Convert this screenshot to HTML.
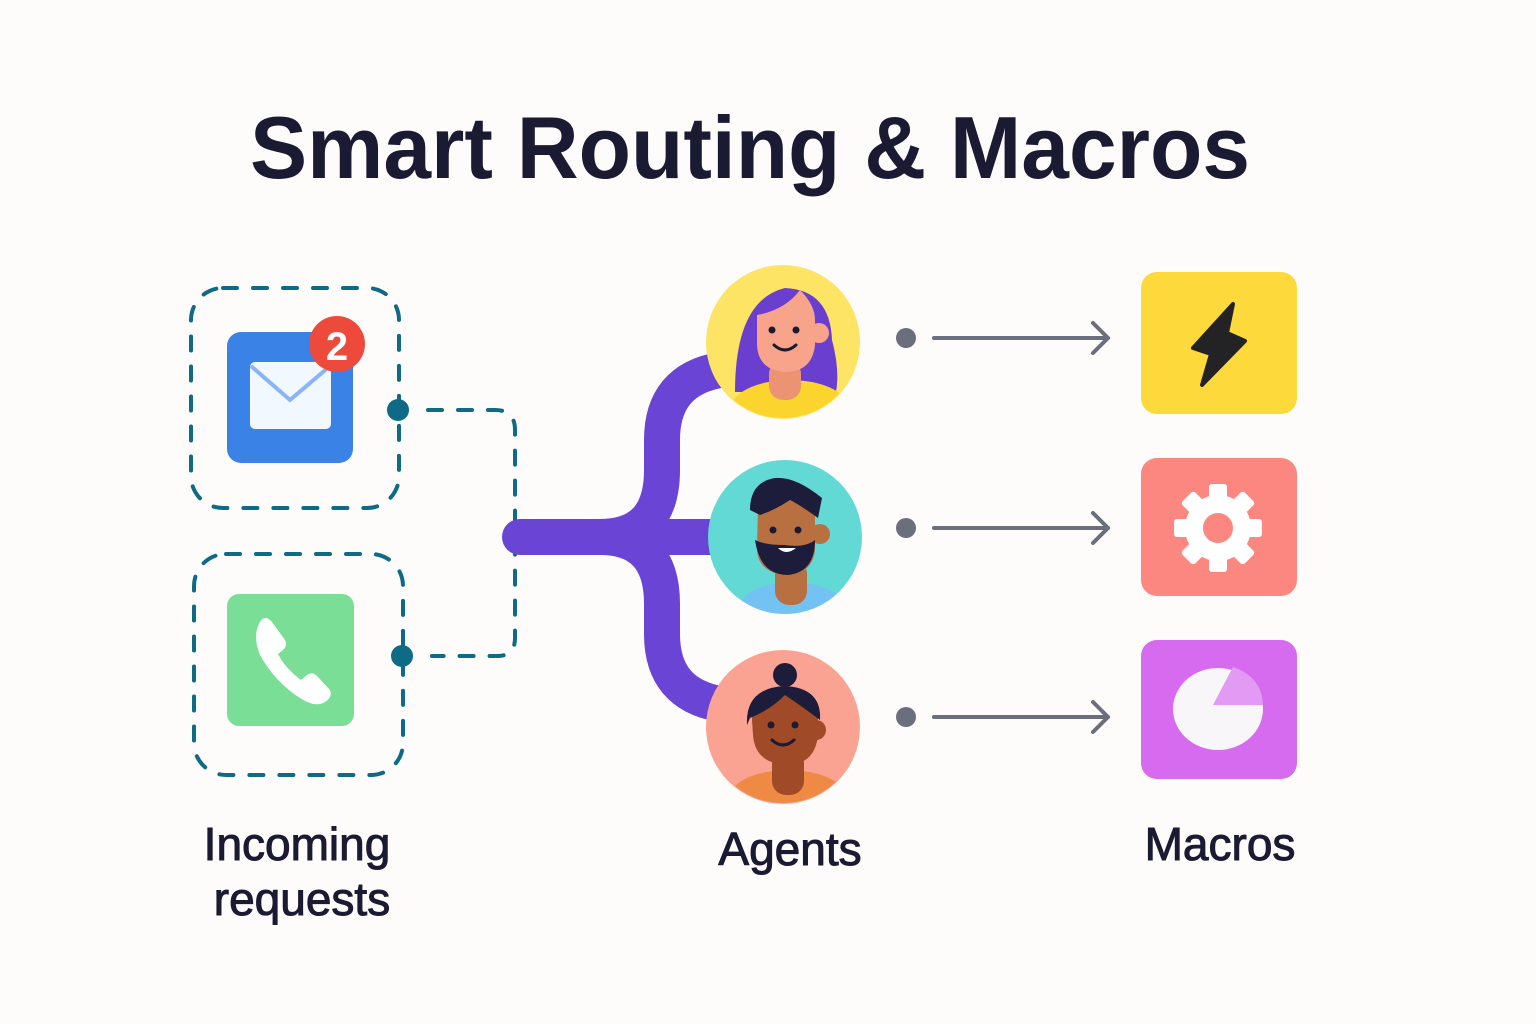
<!DOCTYPE html>
<html><head><meta charset="utf-8"><style>
html,body{margin:0;padding:0;background:#fdfcfa;}
svg{display:block}
text{font-family:"Liberation Sans","DejaVu Sans",sans-serif;fill:#1b1a33}
.lbl{stroke:#1b1a33;stroke-width:1}
</style></head><body>
<svg width="1536" height="1024" viewBox="0 0 1536 1024" xmlns="http://www.w3.org/2000/svg">
<rect width="1536" height="1024" fill="#fdfcfa"/>
<text x="750" y="178" font-size="88" font-weight="700" text-anchor="middle" textLength="1000" lengthAdjust="spacingAndGlyphs">Smart Routing &amp; Macros</text>

<rect x="191" y="288" width="208" height="220" rx="32" fill="none" stroke="#0e6a85" stroke-width="4" stroke-dasharray="14 16" stroke-linecap="round"/>
<rect x="194" y="554" width="209" height="221" rx="32" fill="none" stroke="#0e6a85" stroke-width="4" stroke-dasharray="14 16" stroke-linecap="round"/>
<path d="M428 410 H495 Q515 410 515 430 V638 Q515 656 497 656 H432" fill="none" stroke="#0e6a85" stroke-width="4" stroke-dasharray="14 16" stroke-linecap="round"/>
<circle cx="398" cy="410" r="11" fill="#0e6a85"/>
<circle cx="402" cy="656" r="11" fill="#0e6a85"/>

<rect x="227" y="332" width="126" height="131" rx="14" fill="#3b82e6"/>
<rect x="250" y="362" width="81" height="67" rx="5" fill="#f2f8ff"/>
<path d="M251 366 L290 400 L330 366" fill="none" stroke="#8ab4f8" stroke-width="4" stroke-linejoin="round"/>
<circle cx="337" cy="344" r="28" fill="#ee4a3b"/>
<text x="337" y="360" font-size="40" font-weight="700" text-anchor="middle" style="fill:#fff">2</text>

<rect x="227" y="594" width="127" height="132" rx="12" fill="#7ade97"/>
<path d="M260 622 Q265 614 272 622 L285 640 Q288 645 283 650 L278 654 Q285 668 301 680 L307 675 Q312 671 317 676 L330 690 Q333 697 325 702 Q315 708 300 698 Q275 682 260 655 Q252 635 260 622 Z" fill="#fff"/>

<g fill="none" stroke="#6a44d4" stroke-width="36" stroke-linecap="round">
<path d="M520 537 H600 Q662 537 662 470 V440 Q662 380 720 370"/>
<path d="M600 537 Q662 537 662 604 V634 Q662 694 720 704"/>
<path d="M600 537 H720" stroke-linecap="butt"/>
</g>

<defs>
<clipPath id="c1"><circle cx="783" cy="342" r="76"/></clipPath>
<clipPath id="c2"><circle cx="785" cy="537" r="77"/></clipPath>
<clipPath id="c3"><circle cx="783" cy="727" r="76"/></clipPath>
</defs>
<circle cx="783" cy="342" r="77" fill="#fde465"/>
<g clip-path="url(#c1)">
<path d="M735 392 Q735 300 785 288 Q830 290 832 340 Q840 370 836 392 Z" fill="#6a3fd0"/>
<ellipse cx="790" cy="410" rx="60" ry="30" fill="#fcd42e"/>
<rect x="769" y="360" width="32" height="40" rx="14" fill="#eb9372"/>
<path d="M757 315 Q785 310 800 290 Q815 305 815 320 L815 345 Q812 372 785 372 Q758 370 757 345 Z" fill="#f8a48a"/>
<circle cx="819" cy="333" r="10" fill="#f8a48a"/>
<circle cx="772" cy="330" r="3.5" fill="#1b1a33"/><circle cx="796" cy="330" r="3.5" fill="#1b1a33"/>
<path d="M774 345 Q785 355 796 345" fill="none" stroke="#1b1a33" stroke-width="3" stroke-linecap="round"/>
</g>

<circle cx="785" cy="537" r="77" fill="#63d9d6"/>
<g clip-path="url(#c2)">
<ellipse cx="792" cy="612" rx="55" ry="30" fill="#74c2f4"/>
<rect x="775" y="560" width="32" height="45" rx="14" fill="#b87040"/>
<path d="M758 505 Q785 495 815 500 L815 550 Q812 575 785 575 Q757 572 757 548 Z" fill="#b87040"/>
<circle cx="820" cy="534" r="10" fill="#b87040"/>
<path d="M755 540 Q760 575 788 575 Q815 572 815 540 Q805 548 785 545 Q765 545 755 540 Z" fill="#1d1c3b"/>
<path d="M778 548 Q786 556 796 548 Z" fill="#fff"/>
<path d="M750 510 Q750 482 775 478 Q795 476 822 498 L818 518 Q800 505 790 500 Q775 510 760 515 Z" fill="#1d1c3b"/>
<circle cx="773" cy="530" r="3.5" fill="#1b1a33"/><circle cx="798" cy="530" r="3.5" fill="#1b1a33"/>
</g>

<circle cx="783" cy="727" r="77" fill="#fba393"/>
<g clip-path="url(#c3)">
<ellipse cx="788" cy="800" rx="60" ry="30" fill="#ef8a45"/>
<rect x="772" y="750" width="32" height="45" rx="14" fill="#a04a28"/>
<circle cx="785" cy="675" r="12" fill="#1d1c3b"/>
<path d="M752 720 Q752 688 785 686 Q818 688 818 720 L818 735 Q815 765 786 765 Q755 763 753 735 Z" fill="#a04a28"/>
<path d="M747 725 Q745 688 785 686 Q822 688 820 720 Q800 705 785 695 Q770 710 750 718 Z" fill="#1d1c3b"/>
<circle cx="816" cy="730" r="10" fill="#a04a28"/>
<circle cx="771" cy="725" r="3.5" fill="#1b1a33"/><circle cx="795" cy="725" r="3.5" fill="#1b1a33"/>
<path d="M772 740 Q783 750 794 740" fill="none" stroke="#1b1a33" stroke-width="3" stroke-linecap="round"/>
</g>

<g fill="#6b6e7c"><circle cx="906" cy="338" r="10"/><circle cx="906" cy="528" r="10"/><circle cx="906" cy="717" r="10"/></g>
<g fill="none" stroke="#6b6e7c" stroke-width="4" stroke-linecap="round" stroke-linejoin="round">
<path d="M934 338 H1108 M1093 323 L1108 338 L1093 353"/>
<path d="M934 528 H1108 M1093 513 L1108 528 L1093 543"/>
<path d="M934 717 H1108 M1093 702 L1108 717 L1093 732"/>
</g>

<rect x="1141" y="272" width="156" height="142" rx="16" fill="#fdd93c"/>
<path d="M1233 304 L1227 333 L1245 341 L1202 385 L1211 354 L1193 348 Z" fill="#232326" stroke="#232326" stroke-width="4" stroke-linejoin="round"/>
<rect x="1141" y="458" width="156" height="138" rx="16" fill="#fc8680"/>
<g fill="#fff" transform="translate(1218,528)">
<circle r="33"/>
<g><rect x="-9" y="-44" width="18" height="20" rx="3"/><rect x="-9" y="24" width="18" height="20" rx="3"/><rect x="-44" y="-9" width="20" height="18" rx="3"/><rect x="24" y="-9" width="20" height="18" rx="3"/></g>
<g transform="rotate(45)"><rect x="-9" y="-44" width="18" height="20" rx="3"/><rect x="-9" y="24" width="18" height="20" rx="3"/><rect x="-44" y="-9" width="20" height="18" rx="3"/><rect x="24" y="-9" width="20" height="18" rx="3"/></g>
</g>
<circle cx="1218" cy="528" r="15" fill="#fc8680"/>
<rect x="1141" y="640" width="156" height="139" rx="16" fill="#d76bef"/>
<ellipse cx="1218" cy="709" rx="45" ry="41" fill="#f8f6f8"/>
<path d="M1213 705 L1233 667 Q1262 677 1263 705 Z" fill="#e29af5"/>

<text class="lbl" x="297" y="860" font-size="46" text-anchor="middle">Incoming</text>
<text class="lbl" x="302" y="915" font-size="46" text-anchor="middle">requests</text>
<text class="lbl" x="790" y="865" font-size="46" text-anchor="middle">Agents</text>
<text class="lbl" x="1220" y="860" font-size="46" text-anchor="middle">Macros</text>
</svg>
</body></html>
